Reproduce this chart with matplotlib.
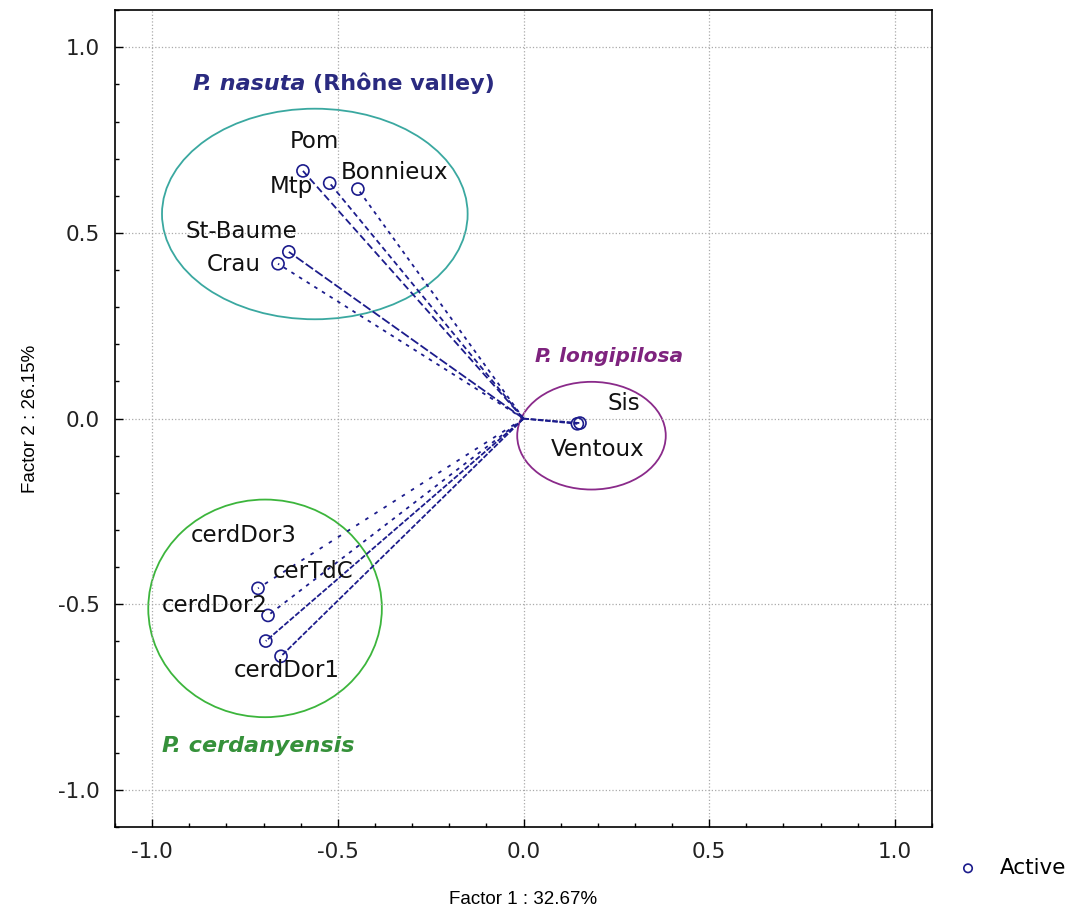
import matplotlib.pyplot as plt
from matplotlib.patches import Ellipse
from matplotlib.ticker import MultipleLocator
import numpy as np

plt.rcParams['font.family'] = ['DejaVu Sans']

# population coordinates on factors 1 and 2
names = ['Pom', 'Mtp', 'Bonnieux', 'St-Baume', 'Crau', 'Sis', 'Ventoux',
         'cerdDor3', 'cerTdC', 'cerdDor2', 'cerdDor1']
f1 = [-0.594, -0.522, -0.446, -0.632, -0.661, 0.152, 0.145,
      -0.715, -0.688, -0.694, -0.653]
f2 = [0.667, 0.634, 0.618, 0.449, 0.417, -0.012, -0.014,
      -0.457, -0.530, -0.599, -0.640]
# label positions
lab_x = [-0.562, -0.626, -0.347, -0.76, -0.78, 0.27, 0.20,
         -0.753, -0.567, -0.831, -0.637]
lab_y = [0.745, 0.624, 0.664, 0.505, 0.415, 0.04, -0.083,
         -0.314, -0.412, -0.503, -0.677]
line_styles = [(0, (4, 2)), (0, (3, 2)), (0, (2, 2.5)), (0, (5, 1.5)), (0, (2, 3)),
               (0, (3, 1)), (0, (3, 1)),
               (0, (2, 4)), (0, (2, 3)), (0, (3, 1)), (0, (3, 1))]

groups = ['P. nasuta', 'P. longipilosa', 'P. cerdanyensis']
grp_x = [-0.562, 0.183, -0.696]
grp_y = [0.551, -0.046, -0.511]
grp_w = [0.823, 0.40, 0.629]
grp_h = [0.567, 0.29, 0.586]
grp_col = ['#3aa8a0', '#8a2a8a', '#3cb53c']

fig = plt.figure(figsize=(10.75, 9.19), dpi=100)
ax = fig.add_axes([0.107, 0.1, 0.760, 0.889])

navy = '#1c1c8c'
for i in range(len(names)):
    ax.plot([0, f1[i]], [0, f2[i]], color=navy, lw=1.3, ls=line_styles[i], zorder=2)
ax.scatter(f1, f2, s=75, facecolors='none', edgecolors=navy, linewidths=1.2,
           zorder=3, label='Active')
for i in range(len(names)):
    ax.text(lab_x[i], lab_y[i], names[i], fontsize=16.5, ha='center', va='center',
            color='#111111', zorder=4)

for i in range(3):
    ax.add_patch(Ellipse((grp_x[i], grp_y[i]), grp_w[i], grp_h[i], fill=False,
                         edgecolor=grp_col[i], lw=1.3, zorder=1))

t1 = ax.text(-0.89, 0.884, 'P. nasuta', fontsize=16, fontweight='bold', style='italic',
             color='#2a2a80', va='baseline')
ax.text(0.030, 0.153, 'P. longipilosa', fontsize=14.5, fontweight='bold', style='italic',
        color='#7e237e', va='baseline')
ax.text(-0.973, -0.897, 'P. cerdanyensis', fontsize=16, fontweight='bold', style='italic',
        color='#35913a', va='baseline')

ax.set_xlim(-1.1, 1.1)
ax.set_ylim(-1.1, 1.1)
ax.xaxis.set_major_locator(MultipleLocator(0.5))
ax.yaxis.set_major_locator(MultipleLocator(0.5))
ax.xaxis.set_minor_locator(MultipleLocator(0.1))
ax.yaxis.set_minor_locator(MultipleLocator(0.1))
ax.xaxis.set_major_formatter(plt.FormatStrFormatter('%.1f'))
ax.yaxis.set_major_formatter(plt.FormatStrFormatter('%.1f'))
ax.tick_params(which='major', direction='in', length=6, width=1, labelsize=15.5, pad=11,
               labelcolor='#222222')
ax.tick_params(which='minor', direction='in', length=3, width=1)
ax.grid(True, which='major', ls=':', color='#aaaaaa', lw=0.9)
for sp in ax.spines.values():
    sp.set_linewidth(1.2)

ax.set_xlabel('Factor 1 : 32.67%', fontsize=13.5, family='Liberation Sans', va='center')
ax.set_ylabel('Factor 2 : 26.15%', fontsize=13.5, family='Liberation Sans', va='center')
ax.xaxis.set_label_coords(0.5, -0.089)
ax.yaxis.set_label_coords(-0.104, 0.5)

ax.legend(loc='center left', bbox_to_anchor=(0.994, -0.05), frameon=False,
          prop={'size': 15.5}, markerscale=0.7, handletextpad=0.5)

# second half of the nasuta title, upright, right after the italic part
fig.canvas.draw()
bb = t1.get_window_extent()
x_end = ax.transData.inverted().transform((bb.x1, bb.y0))[0]
ax.text(x_end + 0.02, 0.884, '(Rhône valley)', fontsize=16, fontweight='bold',
        color='#2a2a80', va='baseline')

fig.savefig('out.png', dpi=100)
